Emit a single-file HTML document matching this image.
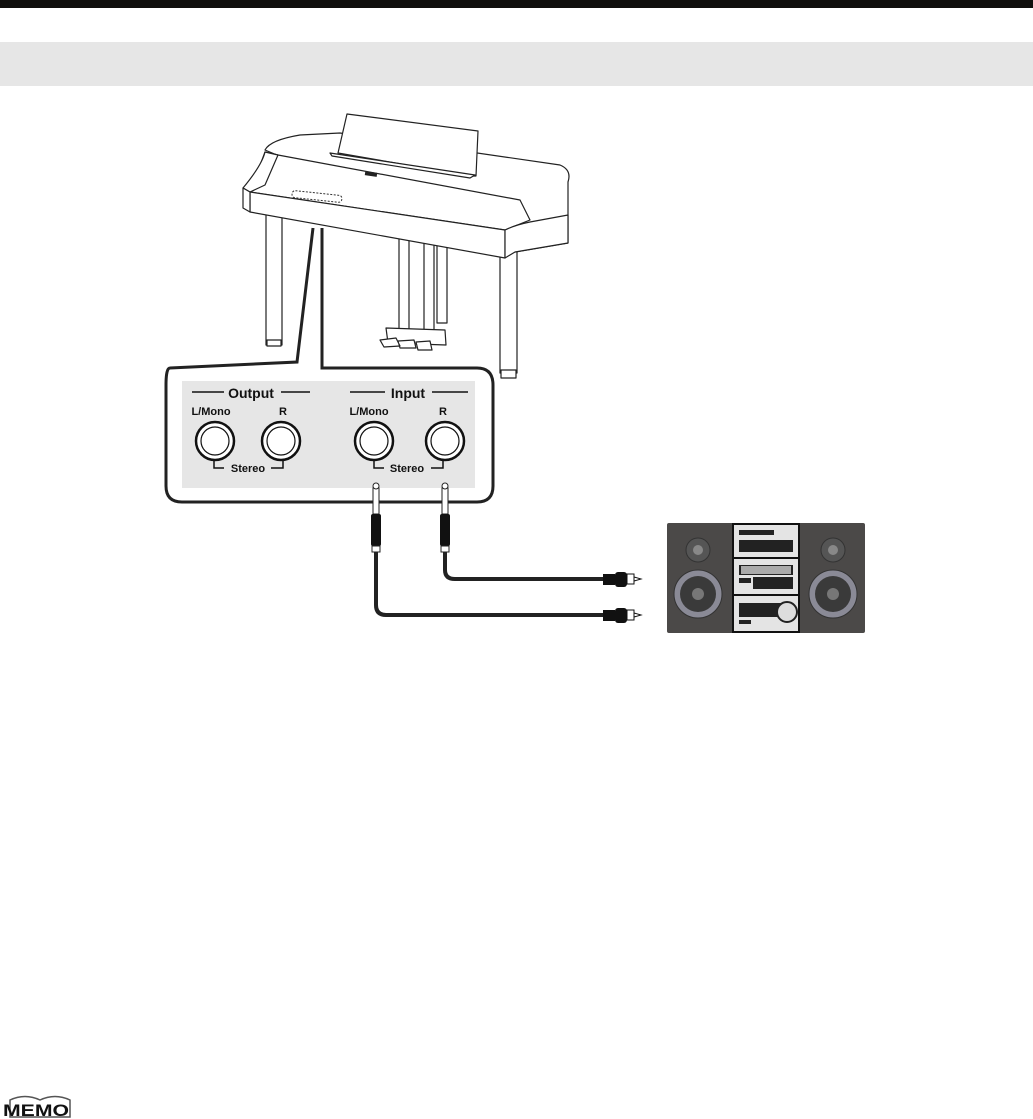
<!DOCTYPE html>
<html><head><meta charset="utf-8"><style>
html,body{margin:0;padding:0;background:#fff;}
body{width:1033px;height:1119px;position:relative;overflow:hidden;font-family:"Liberation Sans",sans-serif;}
</style></head><body>
<svg width="1033" height="1119" viewBox="0 0 1033 1119" xmlns="http://www.w3.org/2000/svg" style="position:absolute;left:0;top:0">
<rect x="0" y="0" width="1033" height="8" fill="#100f0d"/>
<rect x="0" y="42" width="1033" height="44" fill="#e6e6e6"/>

<!-- piano -->
<g fill="#fff" stroke="#222" stroke-width="1.2" stroke-linejoin="round">
  <rect x="266" y="205" width="16" height="140"/>
  <rect x="267" y="340" width="14" height="6"/>
  <rect x="500" y="245" width="17" height="128"/>
  <rect x="501" y="370" width="15" height="8"/>
  <rect x="399" y="235" width="10" height="95"/>
  <rect x="424" y="238" width="10" height="92"/>
  <rect x="437" y="238" width="10" height="85"/>
  <path d="M386 328 L445 330 L446 345 L388 343 Z"/>
  <path d="M380 340 L396 338 L400 346 L384 347Z M398 341 L414 340 L416 348 L400 348Z M416 342 L430 341 L432 350 L418 350Z"/>
  <!-- lid body -->
  <path d="M265 150 Q270 140 300 135 L340 133 L560 165 Q572 170 568 182 L568 243 L515 252 L505 250 Z"/>
  <!-- music stand -->
  <path d="M347 114 L478 131 L476 176 L470 176 L338 153 Z"/>
  <path d="M330 153 L475 175 L470 178 L332 156Z"/>
  <!-- keyboard cover top -->
  <path d="M265 152 L278 155 L520 200 L530 220 L505 230 L250 192 Z"/>
  <path d="M243 188 Q262 165 265 152 L278 155 L265 185 L250 192 Z"/>
  <path d="M250 192 L505 230 L505 258 L250 212 Z"/>
  <path d="M505 230 Q515 225 530 222 L568 215 L568 243 L515 252 L505 258Z"/>
  <path d="M243 188 L250 192 L250 212 L243 208Z"/>
</g>
<rect x="365" y="172" width="12" height="4" fill="#222" transform="rotate(8 371 174)"/>
<rect x="292" y="193" width="50" height="7" rx="3" fill="none" stroke="#333" stroke-dasharray="2 1.5" transform="rotate(6 317 196)"/>

<!-- callout -->
<path d="M313 228 L297 362 L170 368 Q166 368 166 385 L166 486 Q166 502 182 502 L477 502 Q493 502 493 486 L493 385 Q493 368 477 368 L322 368 L322 228" fill="#fff" stroke="#222" stroke-width="3"/>
<rect x="182" y="381" width="293" height="107" fill="#e6e6e6"/>

<g font-family="Liberation Sans, sans-serif" font-weight="bold" fill="#111" text-anchor="middle">
  <text x="251" y="398" font-size="14">Output</text>
  <text x="408" y="398" font-size="14">Input</text>
  <text x="211" y="415" font-size="11">L/Mono</text>
  <text x="283" y="415" font-size="11">R</text>
  <text x="369" y="415" font-size="11">L/Mono</text>
  <text x="443" y="415" font-size="11">R</text>
  <text x="248" y="472" font-size="11">Stereo</text>
  <text x="407" y="472" font-size="11">Stereo</text>
</g>
<g stroke="#111" stroke-width="1.5" fill="none">
  <line x1="192" y1="392" x2="224" y2="392"/><line x1="281" y1="392" x2="310" y2="392"/>
  <line x1="350" y1="392" x2="385" y2="392"/><line x1="432" y1="392" x2="468" y2="392"/>
  <path d="M214 458 L214 468 L224 468"/><path d="M271 468 L283 468 L283 458"/>
  <path d="M374 458 L374 468 L384 468"/><path d="M431 468 L443 468 L443 458"/>
</g>
<g fill="#fff" stroke="#111">
  <g stroke-width="2.5"><circle cx="215" cy="441" r="19"/><circle cx="281" cy="441" r="19"/><circle cx="374" cy="441" r="19"/><circle cx="445" cy="441" r="19"/></g>
  <g stroke-width="1.2"><circle cx="215" cy="441" r="14"/><circle cx="281" cy="441" r="14"/><circle cx="374" cy="441" r="14"/><circle cx="445" cy="441" r="14"/></g>
</g>

<!-- cables -->
<g fill="none" stroke="#222" stroke-width="4">
  <path d="M376 550 L376 605 Q376 615 386 615 L605 615"/>
  <path d="M445 550 L445 570 Q445 579 455 579 L605 579"/>
</g>
<g>
  <rect x="373" y="488" width="6" height="26" fill="#fff" stroke="#222"/>
  <circle cx="376" cy="486" r="3" fill="#fff" stroke="#222"/>
  <rect x="371" y="514" width="10" height="32" rx="2" fill="#111"/>
  <rect x="372" y="546" width="8" height="6" fill="#fff" stroke="#222" stroke-width="1"/>
  <rect x="442" y="488" width="6" height="26" fill="#fff" stroke="#222"/>
  <circle cx="445" cy="486" r="3" fill="#fff" stroke="#222"/>
  <rect x="440" y="514" width="10" height="32" rx="2" fill="#111"/>
  <rect x="441" y="546" width="8" height="6" fill="#fff" stroke="#222" stroke-width="1"/>
  <g fill="#111"><rect x="603" y="574" width="12" height="11"/><rect x="615" y="572" width="12" height="15" rx="3"/><rect x="603" y="610" width="12" height="11"/><rect x="615" y="608" width="12" height="15" rx="3"/></g>
  <g fill="#fff" stroke="#111"><rect x="627" y="574" width="7" height="10"/><rect x="627" y="610" width="7" height="10"/><path d="M634 577 L641 579 L634 581" fill="none"/><path d="M634 613 L641 615 L634 617" fill="none"/></g>
</g>

<!-- stereo -->
<rect x="667" y="523" width="198" height="110" rx="2" fill="#4b4948"/>
<rect x="732" y="523" width="68" height="110" fill="#111"/>
<g fill="#e4e4e4"><rect x="734" y="525" width="64" height="32"/><rect x="734" y="559" width="64" height="35"/><rect x="734" y="596" width="64" height="35"/></g>
<g fill="#222"><rect x="739" y="530" width="35" height="5"/><rect x="739" y="540" width="54" height="12"/><rect x="739" y="565" width="54" height="10"/><rect x="753" y="577" width="40" height="12"/><rect x="739" y="578" width="12" height="5"/><rect x="739" y="603" width="48" height="14"/><rect x="739" y="620" width="12" height="4"/></g>
<rect x="741" y="566" width="50" height="8" fill="#aaa"/>
<circle cx="787" cy="612" r="10" fill="#ddd" stroke="#222" stroke-width="2"/>
<g>
  <circle cx="698" cy="550" r="12" fill="#555" stroke="#333"/><circle cx="698" cy="550" r="5" fill="#888"/>
  <circle cx="698" cy="594" r="24" fill="#8a8a96" stroke="#333"/><circle cx="698" cy="594" r="18" fill="#3a3a3a"/><circle cx="698" cy="594" r="6" fill="#777"/>
  <circle cx="833" cy="550" r="12" fill="#555" stroke="#333"/><circle cx="833" cy="550" r="5" fill="#888"/>
  <circle cx="833" cy="594" r="24" fill="#8a8a96" stroke="#333"/><circle cx="833" cy="594" r="18" fill="#3a3a3a"/><circle cx="833" cy="594" r="6" fill="#777"/>
</g>

<!-- memo -->
<path d="M10 1100 Q25 1093 40 1100 Q55 1093 70 1100 L70 1117 L10 1117Z" fill="none" stroke="#555" stroke-width="1.5"/>
<text x="3" y="1116" font-family="Liberation Sans, sans-serif" font-weight="bold" font-size="17" fill="#111" textLength="66" lengthAdjust="spacingAndGlyphs">MEMO</text>
</svg>
</body></html>
